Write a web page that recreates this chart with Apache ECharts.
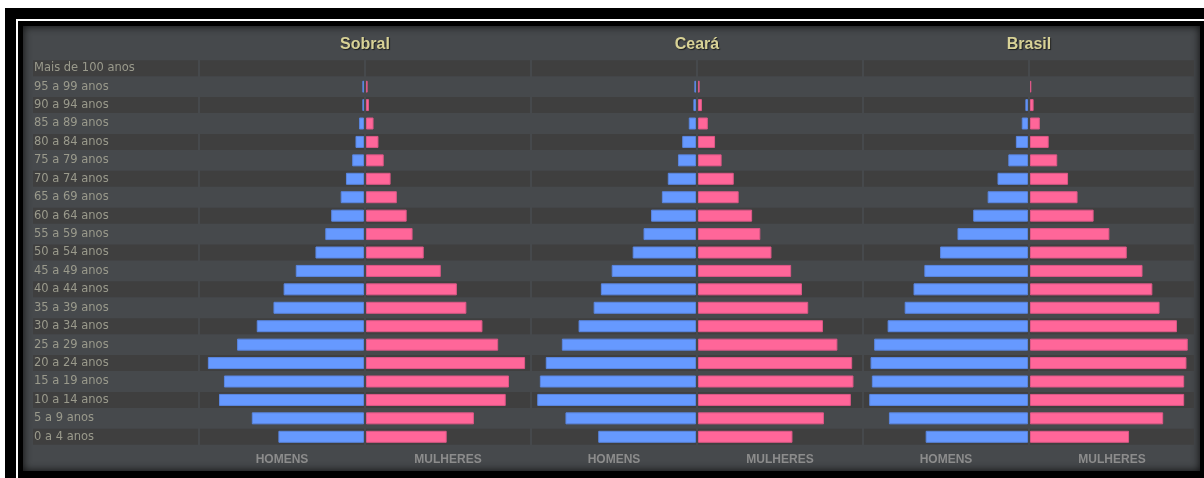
<!DOCTYPE html>
<html>
<head>
<meta charset="utf-8">
<script src="https://cdn.jsdelivr.net/npm/echarts@6/dist/echarts.min.js"></script>
<style>
  html, body { margin: 0; padding: 0; background: #fff; width: 1204px; height: 478px; overflow: hidden; }
  #frame { position: absolute; left: 5px; top: 8px; width: 1300px; height: 600px; background: #000; }
  #line { position: absolute; left: 16px; top: 19px; width: 1300px; height: 600px; border-left: 2px solid #fff; border-top: 2px solid #fff; }
  #panel { position: absolute; left: 23px; top: 26px; width: 1177px; height: 445px; background: #46494c; box-shadow: inset 0 0 8px rgba(0,0,0,0.85); }
  #chart { position: absolute; left: 0; top: 0; width: 1204px; height: 478px; }
</style>
</head>
<body>
<div id="frame"></div>
<div id="line"></div>
<div id="panel"></div>
<div id="chart"></div>
<script>
// faixas etarias, de baixo para cima
const ageGroups = ['0 a 4 anos', '5 a 9 anos', '10 a 14 anos', '15 a 19 anos', '20 a 24 anos',
  '25 a 29 anos', '30 a 34 anos', '35 a 39 anos', '40 a 44 anos', '45 a 49 anos', '50 a 54 anos',
  '55 a 59 anos', '60 a 64 anos', '65 a 69 anos', '70 a 74 anos', '75 a 79 anos', '80 a 84 anos',
  '85 a 89 anos', '90 a 94 anos', '95 a 99 anos', 'Mais de 100 anos'];

const sobralHomens   = [2.61, 3.42, 4.42, 4.27, 4.76, 3.87, 3.27, 2.76, 2.45, 2.08, 1.48, 1.18, 1.00, 0.71, 0.55, 0.36, 0.26, 0.15, 0.05, 0.05, 0];
const sobralMulheres = [2.46, 3.29, 4.26, 4.36, 4.85, 4.03, 3.55, 3.06, 2.77, 2.28, 1.76, 1.42, 1.24, 0.94, 0.75, 0.54, 0.38, 0.23, 0.09, 0.05, 0];
const cearaHomens    = [2.98, 3.98, 4.84, 4.76, 4.58, 4.09, 3.58, 3.12, 2.90, 2.57, 1.93, 1.60, 1.37, 1.04, 0.86, 0.55, 0.42, 0.22, 0.08, 0.05, 0];
const cearaMulheres  = [2.88, 3.84, 4.66, 4.74, 4.70, 4.25, 3.81, 3.36, 3.17, 2.84, 2.24, 1.90, 1.65, 1.24, 1.09, 0.72, 0.52, 0.30, 0.12, 0.05, 0];
const brasilHomens   = [3.12, 4.24, 4.84, 4.76, 4.80, 4.69, 4.28, 3.76, 3.49, 3.16, 2.68, 2.15, 1.67, 1.23, 0.93, 0.60, 0.37, 0.19, 0.08, 0, 0];
const brasilMulheres = [3.02, 4.06, 4.70, 4.70, 4.77, 4.81, 4.48, 3.95, 3.73, 3.43, 2.95, 2.42, 1.94, 1.45, 1.16, 0.83, 0.57, 0.30, 0.11, 0.04, 0];

const panelNames = ['Sobral', 'Ceará', 'Brasil'];
const sexLabels = ['HOMENS', 'MULHERES'];

const AXIS_MAX = 5;
const TOP = 59, HEIGHT = 387;
const STRIPE = '#3f3f3f';

const panels = [
  { name: panelNames[0], men: sobralHomens, women: sobralMulheres, left: 200 },
  { name: panelNames[1], men: cearaHomens,  women: cearaMulheres,  left: 532 },
  { name: panelNames[2], men: brasilHomens, women: brasilMulheres, left: 864 }
];

const grid = [], xAxis = [], yAxis = [], series = [], graphic = [];

function stripeData(max) {
  return ageGroups.map((c, i) => (i % 2 === 0 ? max : '-'));
}

function addBlock(left, width, opts) {
  const g = grid.length;
  grid.push({ left: left, top: TOP, width: width, height: HEIGHT });
  xAxis.push({
    type: 'value', gridIndex: g, min: 0, max: opts.max, inverse: !!opts.inverse,
    axisLine: { show: false }, axisTick: { show: false }, axisLabel: { show: false }, splitLine: { show: false },
    name: opts.name || '', nameLocation: 'middle', nameGap: 8,
    nameTextStyle: { color: '#8c8c8c', fontWeight: 'bold', fontSize: 12, fontFamily: 'Liberation Sans' }
  });
  const yMain = yAxis.length;
  yAxis.push({
    type: 'category', gridIndex: g, data: ageGroups, z: 5,
    axisLine: { show: false }, axisTick: { show: false }, splitLine: { show: false },
    axisLabel: opts.labels ? {
      show: true, inside: true, margin: 1, interval: 0, hideOverlap: false,
      color: '#9a9a8c', fontSize: 11.5, fontFamily: 'DejaVu Sans', lineHeight: 12
    } : { show: false }
  });
  yAxis.push({
    type: 'category', gridIndex: g, data: ageGroups, show: false
  });
  series.push({
    type: 'bar', xAxisIndex: g, yAxisIndex: yMain + 1, data: stripeData(opts.max),
    barWidth: 16, silent: true, z: 1, itemStyle: { color: STRIPE }, animation: false
  });
  if (opts.values) {
    series.push({
      type: 'bar', xAxisIndex: g, yAxisIndex: yMain, name: opts.name,
      data: opts.values.map(v => (v === 0 ? '-' : v)),
      barWidth: 12, z: 2, animation: false,
      itemStyle: { color: opts.color, borderColor: opts.border, borderWidth: 1 }
    });
  }
}

// coluna dos rotulos
addBlock(33, 165, { max: 1, labels: true });

panels.forEach(p => {
  addBlock(p.left, 164, { max: AXIS_MAX, inverse: true, name: sexLabels[0], values: p.men, color: '#6699ff', border: '#5a86e0' });
  addBlock(p.left + 166, 164, { max: AXIS_MAX, name: sexLabels[1], values: p.women, color: '#ff6699', border: '#dd5887' });
  graphic.push({
    type: 'text', x: p.left + 165, y: 45, silent: true,
    style: {
      text: p.name, align: 'center', verticalAlign: 'middle',
      fill: '#d8d296', font: 'bold 16px "Liberation Sans"',
      textShadowColor: 'rgba(0,0,0,0.6)', textShadowBlur: 1, textShadowOffsetX: 1, textShadowOffsetY: 1
    }
  });
});

const chart = echarts.init(document.getElementById('chart'));
chart.setOption({
  backgroundColor: 'transparent',
  animation: false,
  grid: grid,
  xAxis: xAxis,
  yAxis: yAxis,
  series: series,
  graphic: graphic
});
</script>
</body>
</html>
